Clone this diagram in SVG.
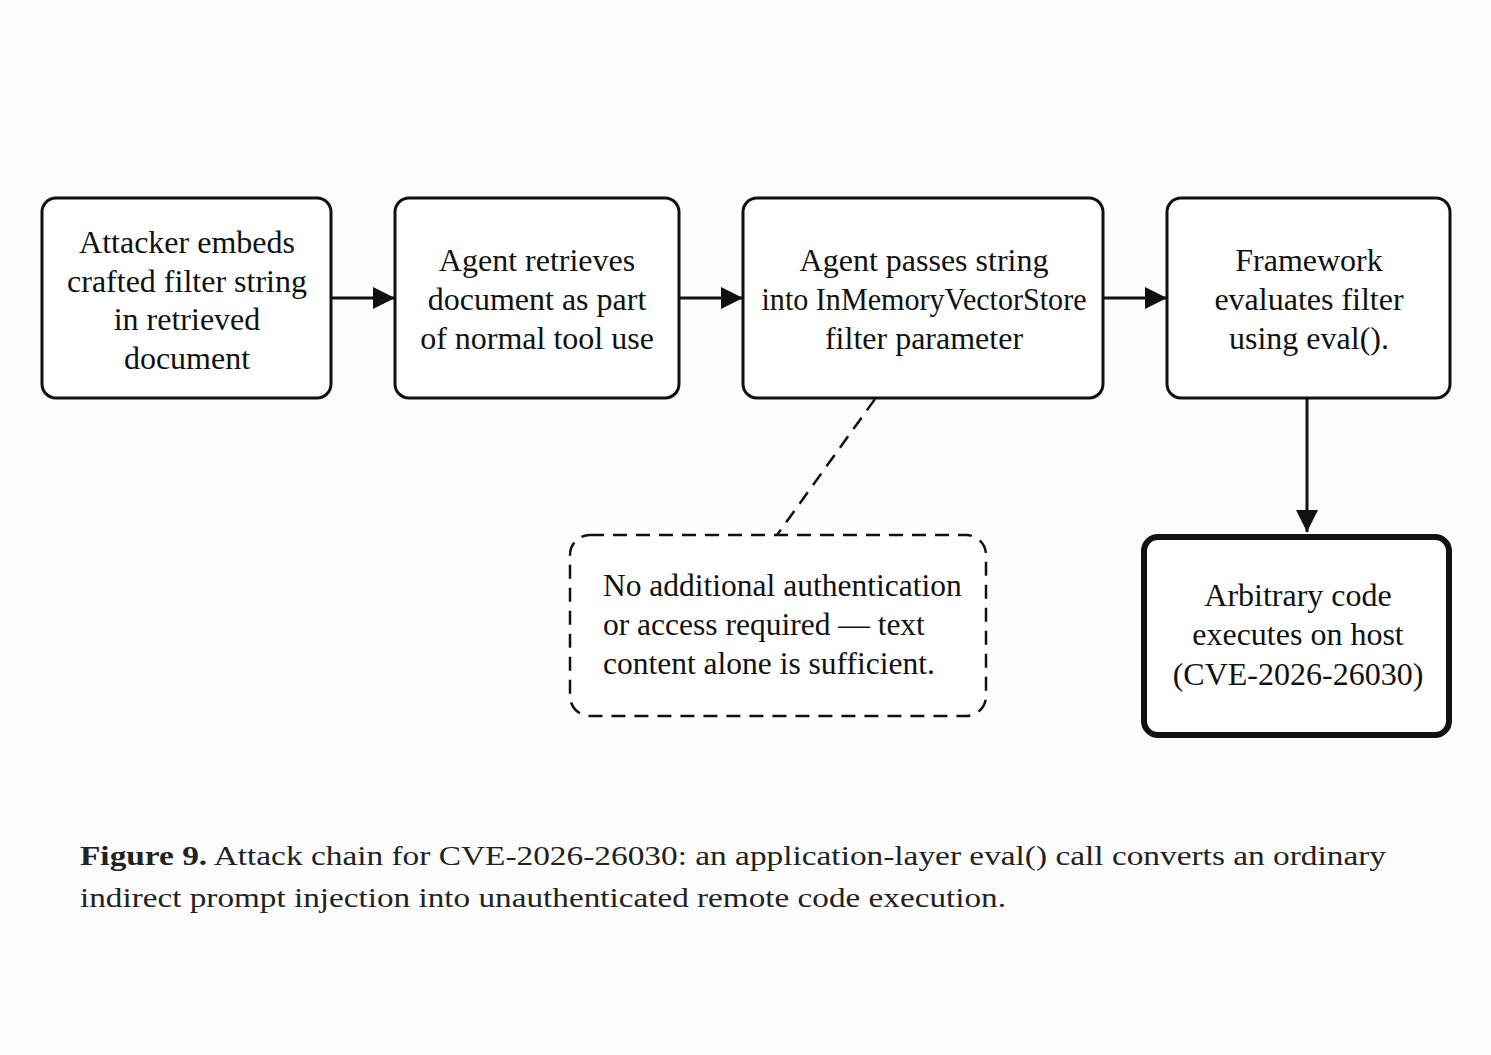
<svg xmlns="http://www.w3.org/2000/svg" width="1491" height="1055" viewBox="0 0 1491 1055">
<defs>
<marker id="ah" viewBox="0 0 10 10" refX="10" refY="5" markerWidth="22" markerHeight="22" markerUnits="userSpaceOnUse" orient="auto">
<path d="M0,0 L10,5 L0,10 Z" fill="#111"/>
</marker>
</defs>
<style>
.box{fill:#fff;stroke:#111;stroke-width:3}
.thick{fill:#fff;stroke:#111;stroke-width:6}
.dash{fill:#fff;stroke:#111;stroke-width:2.5;stroke-dasharray:14 9}
.t{font-family:"Liberation Serif","Times New Roman",serif;font-size:32px;fill:#111;text-anchor:middle}
.tl{font-family:"Liberation Serif","Times New Roman",serif;font-size:31.5px;fill:#111}
.cap{font-family:"Liberation Serif","Times New Roman",serif;font-size:28px;fill:#222}
.conn{stroke:#111;stroke-width:3;fill:none}
</style>
<rect width="1491" height="1055" fill="#fdfdfd"/>
<g id="connectors">
<line class="conn" x1="331" y1="298" x2="395" y2="298" marker-end="url(#ah)"/>
<line class="conn" x1="679" y1="298" x2="743" y2="298" marker-end="url(#ah)"/>
<line class="conn" x1="1103" y1="298" x2="1167" y2="298" marker-end="url(#ah)"/>
<line class="conn" x1="1307" y1="398" x2="1307" y2="532" marker-end="url(#ah)"/>
<line x1="875" y1="399" x2="777" y2="535" stroke="#111" stroke-width="2.5" stroke-dasharray="14 9"/>
</g>
<g id="n1">
<rect class="box" x="42" y="198" width="289" height="200" rx="14"/>
<text class="t" x="187" y="253">Attacker embeds</text>
<text class="t" x="187" y="292">crafted filter string</text>
<text class="t" x="187" y="330">in retrieved</text>
<text class="t" x="187" y="369">document</text>
</g>
<g id="n2">
<rect class="box" x="395" y="198" width="284" height="200" rx="14"/>
<text class="t" x="537" y="271">Agent retrieves</text>
<text class="t" x="537" y="310">document as part</text>
<text class="t" x="537" y="349">of normal tool use</text>
</g>
<g id="n3">
<rect class="box" x="743" y="198" width="360" height="200" rx="14"/>
<text class="t" x="924" y="271">Agent passes string</text>
<text class="t" x="924" y="310" textLength="325" lengthAdjust="spacingAndGlyphs">into InMemoryVectorStore</text>
<text class="t" x="924" y="349">filter parameter</text>
</g>
<g id="n4">
<rect class="box" x="1167" y="198" width="283" height="200" rx="14"/>
<text class="t" x="1309" y="271">Framework</text>
<text class="t" x="1309" y="310">evaluates filter</text>
<text class="t" x="1309" y="349">using eval().</text>
</g>
<g id="n5">
<rect class="thick" x="1144" y="537" width="305" height="198" rx="14"/>
<text class="t" x="1298" y="606">Arbitrary code</text>
<text class="t" x="1298" y="645">executes on host</text>
<text class="t" x="1298" y="685">(CVE-2026-26030)</text>
</g>
<g id="note">
<rect class="dash" x="570" y="535" width="416" height="181" rx="20"/>
<text class="tl" x="603" y="596">No additional authentication</text>
<text class="tl" x="603" y="635">or access required — text</text>
<text class="tl" x="603" y="674">content alone is sufficient.</text>
</g>
<g id="caption">
<text class="cap" x="80" y="865" textLength="1306" lengthAdjust="spacingAndGlyphs"><tspan font-weight="bold">Figure 9.</tspan> Attack chain for CVE-2026-26030: an application-layer eval() call converts an ordinary</text>
<text class="cap" x="80" y="907" textLength="926" lengthAdjust="spacingAndGlyphs">indirect prompt injection into unauthenticated remote code execution.</text>
</g>
</svg>
